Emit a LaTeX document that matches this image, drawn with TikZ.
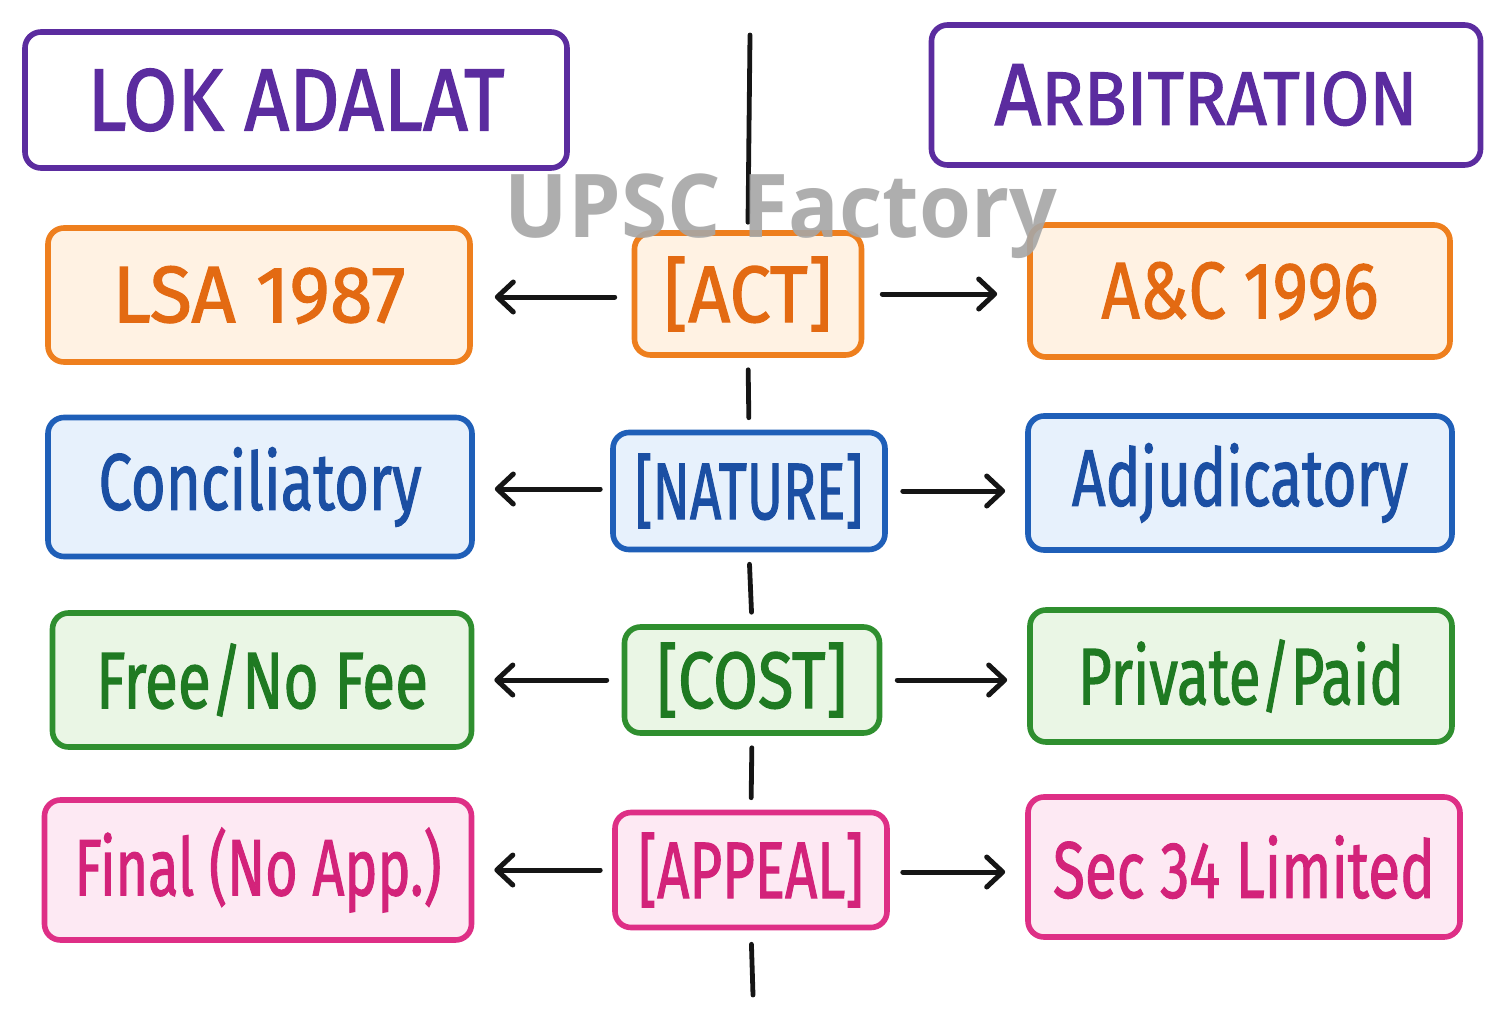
\documentclass[tikz,border=0pt]{standalone}
\usepackage{fontspec}
\usepackage{graphicx}
\setmainfont{Fira Sans}[FakeBold=1.6]
\newfontfamily\wmfont{Open Sans}
\usetikzlibrary{arrows.meta}
\definecolor{cpurple}{HTML}{5B2C9F}
\definecolor{corange}{HTML}{EE7F1E}
\definecolor{forange}{HTML}{FFF2E3}
\definecolor{torange}{HTML}{E36A12}
\definecolor{cblue}{HTML}{1F5FB8}
\definecolor{fblue}{HTML}{E7F1FC}
\definecolor{tblue}{HTML}{1B4FA3}
\definecolor{cgreen}{HTML}{2F8F2F}
\definecolor{fgreen}{HTML}{EAF6E5}
\definecolor{tgreen}{HTML}{1F7A22}
\definecolor{cpink}{HTML}{DE2F86}
\definecolor{fpink}{HTML}{FDE9F3}
\definecolor{tpink}{HTML}{D3237A}
\definecolor{ink}{HTML}{151515}
\newcommand\fw[2]{\resizebox{\dimexpr 0.5pt*#1\relax}{\height}{#2}}
\tikzset{
  box/.style={draw, rounded corners=8pt, line width=2.8pt, inner sep=0pt, anchor=center,
    font=\fontsize{40}{44}\selectfont},
  hdr/.style={box, draw=cpurple, fill=white, text=cpurple, font=\fontsize{44}{48}\selectfont},
  obox/.style={box, draw=corange, fill=forange, text=torange},
  bbox/.style={box, draw=cblue, fill=fblue, text=tblue},
  gbox/.style={box, draw=cgreen, fill=fgreen, text=tgreen},
  pbox/.style={box, draw=cpink, fill=fpink, text=tpink},
  sz/.style 2 args={minimum width=#1*0.5pt, minimum height=#2*0.5pt},
  vline/.style={draw=ink, line width=2.4pt, line cap=round},
  arr/.style={draw=ink, line width=2.5pt, line cap=round,
    -{Straight Barb[length=8pt,width=15pt,round]}},
}
\begin{document}
\begin{tikzpicture}[x=0.5pt,y=-0.5pt]
\useasboundingbox[fill=white] (0,0) rectangle (1505,1017);
% headers
\node[hdr, sz={542}{136}] (lok) at (296,100) {\fw{417}{LOK ADALAT}};
\node[hdr, sz={549}{140}] (arb) at (1206,95) {\fw{423}{A{\fontsize{38}{44}\selectfont RBITRATION}}};
% row 1
\node[obox, sz={422}{134}] (lsa) at (259,295) {\fw{293}{LSA 1987}};
\node[obox, sz={227}{122}] (act) at (748,294) {\fw{168}{[ACT]}};
\node[obox, sz={420}{132}] (ac) at (1240,291) {\fw{277}{A\&C 1996}};
% row 2
\node[bbox, sz={424}{139}] (con) at (260,487) {\fw{323}{Conciliatory}};
\node[bbox, sz={272}{117}] (nat) at (749,491) {\fw{228}{[NATURE]}};
\node[bbox, sz={424}{134}] (adj) at (1240,483) {\fw{336}{Adjudicatory}};
% row 3
\node[gbox, sz={419}{134}] (free) at (262,680) {\fw{332}{Free/No Fee}};
\node[gbox, sz={255}{106}] (cost) at (752,680) {\fw{190}{[COST]}};
\node[gbox, sz={422}{132}] (priv) at (1241,676) {\fw{326}{Private/Paid}};
% row 4
\node[pbox, sz={427}{140}] (fin) at (258,870) {\fw{367}{Final (No App.)}};
\node[pbox, sz={272}{115}] (app) at (751,870) {\fw{225}{[APPEAL]}};
\node[pbox, sz={432}{140}] (sec) at (1244,867) {\fw{382}{Sec 34 Limited}};
% central spine
\coordinate (top) at (750,35);
\coordinate (bot) at (753,995);
\path[vline] (top) -- ([yshift=4pt]act.north);
\path[vline, shorten <=6pt, shorten >=6pt] (act.south) -- (nat.north);
\path[vline, shorten <=6pt, shorten >=6pt] (nat.south) -- (cost.north);
\path[vline, shorten <=6pt, shorten >=6pt] (cost.south) -- (app.north);
\path[vline, shorten <=7pt] (app.south) -- (bot);
% arrows
\path[arr, shorten <=8.5pt, shorten >=11pt] ([yshift=-1.5pt]act.west) -- ([yshift=-1.5pt]act.west -| lsa.east);
\path[arr, shorten <=9pt, shorten >=15pt] (act.east) -- (act.east -| ac.west);
\path[arr, shorten <=5pt, shorten >=10pt] ([yshift=1pt]nat.west) -- ([yshift=1pt]nat.west -| con.east);
\path[arr, shorten <=7.5pt, shorten >=10pt] (nat.east) -- (nat.east -| adj.west);
\path[arr, shorten <=7.5pt, shorten >=10pt] (cost.west) -- (cost.west -| free.east);
\path[arr, shorten <=7.5pt, shorten >=10pt] (cost.east) -- (cost.east -| priv.west);
\path[arr, shorten <=6pt, shorten >=10pt] (app.west) -- (app.west -| fin.east);
\path[arr, shorten <=6.5pt, shorten >=10pt] ([yshift=-1pt]app.east) -- ([yshift=-1pt]app.east -| sec.west);
% watermark
\node[anchor=base, text=black!35, opacity=0.9, inner sep=0pt,
  font=\wmfont\bfseries\fontsize{44}{48}\selectfont] (wm) at (781,237) {\fw{552}{UPSC Factory}};
\end{tikzpicture}
\end{document}
